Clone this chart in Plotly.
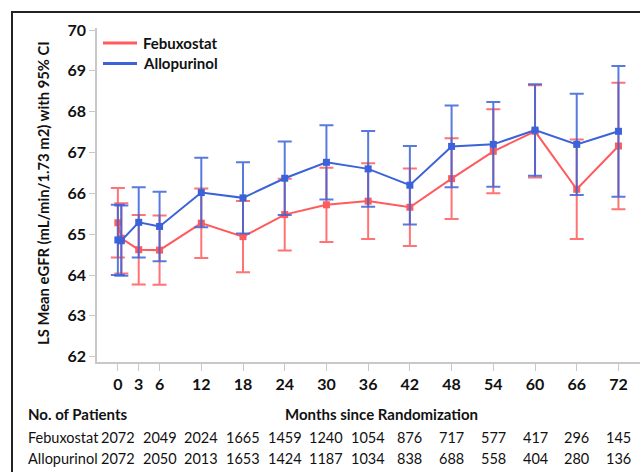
import plotly.graph_objects as go

# ---- data ----
months = [0, 0.5, 3, 6, 12, 18, 24, 30, 36, 42, 48, 54, 60, 66, 72]
feb_mean = [65.28, 64.90, 64.62, 64.61, 65.27, 64.94, 65.48, 65.72, 65.81, 65.66, 66.36, 67.03, 67.52, 66.10, 67.16]
feb_ci = [0.85, 0.86, 0.85, 0.85, 0.85, 0.87, 0.88, 0.91, 0.93, 0.95, 0.99, 1.03, 1.13, 1.22, 1.55]
allo_mean = [64.86, 64.84, 65.29, 65.19, 66.02, 65.89, 66.37, 66.76, 66.60, 66.20, 67.15, 67.20, 67.55, 67.20, 67.52]
allo_ci = [0.86, 0.86, 0.86, 0.85, 0.85, 0.87, 0.90, 0.91, 0.93, 0.96, 1.00, 1.04, 1.12, 1.24, 1.60]

x_ticks = [0, 3, 6, 12, 18, 24, 30, 36, 42, 48, 54, 60, 66, 72]
y_ticks = [62, 63, 64, 65, 66, 67, 68, 69, 70]
count_months = [0, 6, 12, 18, 24, 30, 36, 42, 48, 54, 60, 66, 72]
feb_n = [2072, 2049, 2024, 1665, 1459, 1240, 1054, 876, 717, 577, 417, 296, 145]
allo_n = [2072, 2050, 2013, 1653, 1424, 1187, 1034, 838, 688, 558, 404, 280, 136]
series_names = ["Febuxostat", "Allopurinol"]

RED = "#FF5A5C"
BLUE = "#3B63D9"
FONT = "Lato"
TXT = "#111111"

fig = go.Figure()

def add_series(name, y, ci, color, ecolor):
    fig.add_trace(go.Scatter(
        x=months, y=y, mode="lines+markers", name=name, showlegend=False,
        line=dict(color=color, width=2),
        marker=dict(symbol="square", size=7, color=color),
        error_y=dict(type="data", array=ci, visible=True, color=ecolor,
                     thickness=2, width=7),
    ))

add_series(series_names[0], feb_mean, feb_ci, RED, "rgba(255,90,92,0.85)")
add_series(series_names[1], allo_mean, allo_ci, BLUE, "rgba(59,99,217,0.85)")

# plot area in pixels: left 97, right 640, top 28, bottom 362
L, R, T, B = 97, 640, 28, 362
W, H = R - L, B - T

def px_x(p):
    return (p - L) / W

def px_y(p):
    return (B - p) / H

annotations = []
shapes = []

# legend drawn manually
for name, color, py in [(series_names[0], RED, 43), (series_names[1], BLUE, 63.5)]:
    shapes.append(dict(type="line", xref="paper", yref="paper",
                       x0=px_x(103), x1=px_x(137), y0=px_y(py), y1=px_y(py),
                       line=dict(color=color, width=3)))
    annotations.append(dict(text="<b>%s</b>" % name, x=px_x(141), y=px_y(py),
                            xref="paper", yref="paper", showarrow=False,
                            xanchor="left", yanchor="middle",
                            font=dict(family=FONT, size=15, color=TXT)))

annotations.append(dict(text="<b>LS Mean eGFR (mL/min/1.73 m2) with 95% CI</b>",
                        x=px_x(43), y=px_y(193), xref="paper", yref="paper",
                        textangle=-90, showarrow=False, xanchor="center", yanchor="middle",
                        font=dict(family=FONT, size=14.8, color=TXT)))
annotations.append(dict(text="<b>No. of Patients</b>", x=px_x(26), y=px_y(414),
                        xref="paper", yref="paper", showarrow=False,
                        xanchor="left", yanchor="middle",
                        font=dict(family=FONT, size=15, color=TXT)))
annotations.append(dict(text="<b>Months since Randomization</b>", x=px_x(381.5), y=px_y(414),
                        xref="paper", yref="paper", showarrow=False,
                        xanchor="center", yanchor="middle",
                        font=dict(family=FONT, size=15, color=TXT)))
for label, vals, py in [(series_names[0], feb_n, 437), (series_names[1], allo_n, 458)]:
    annotations.append(dict(text=label, x=px_x(26), y=px_y(py), xref="paper", yref="paper",
                            showarrow=False, xanchor="left", yanchor="middle",
                            font=dict(family=FONT, size=14.5, color=TXT)))
    for m, v in zip(count_months, vals):
        annotations.append(dict(text=str(v), x=m, y=px_y(py), xref="x", yref="paper",
                                showarrow=False, xanchor="center", yanchor="middle",
                                font=dict(family=FONT, size=14.5, color=TXT)))

# outer frame (left and top edges visible)
shapes.append(dict(type="rect", xref="paper", yref="paper",
                   x0=px_x(12), x1=px_x(700), y0=px_y(520), y1=px_y(12),
                   line=dict(color="#222", width=2), fillcolor="rgba(0,0,0,0)", layer="below"))

fig.update_layout(
    width=640, height=472,
    margin=dict(l=L, r=640 - R, t=T, b=472 - B),
    plot_bgcolor="white", paper_bgcolor="white",
    showlegend=False,
    annotations=annotations,
    shapes=shapes,
)
fig.update_xaxes(range=[-3.0, 75.1], tickmode="array", tickvals=x_ticks,
                 showgrid=False, zeroline=False, showline=True, linecolor="#c8c8c8", linewidth=1.5,
                 ticks="outside", ticklen=7, tickcolor="#c8c8c8", tickwidth=1,
                 tickfont=dict(family=FONT, size=16, color=TXT, weight="bold"))
fig.update_yaxes(range=[61.87, 70.05], tickmode="array", tickvals=y_ticks,
                 showgrid=False, zeroline=False, showline=True, linecolor="#c8c8c8", linewidth=1.5,
                 ticks="outside", ticklen=6, tickcolor="#c8c8c8", tickwidth=1,
                 tickfont=dict(family=FONT, size=16, color=TXT, weight="bold"))

fig.write_html("out.html", config={"displayModeBar": False},
               post_script="document.body.style.margin='0';")
